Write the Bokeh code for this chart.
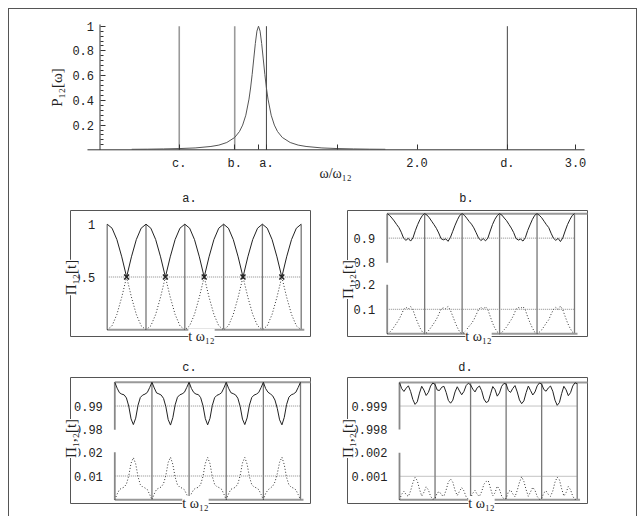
import math
from bokeh.plotting import figure
from bokeh.layouts import column, row
from bokeh.models import Range1d, FixedTicker, Label
from bokeh.embed import file_html
from bokeh.resources import INLINE

MONO = "Liberation Mono"
SERIF = "Liberation Serif"
INK = "#222222"

# ---------------- top spectrum ----------------
OMEGA = [0.2, 0.3, 0.4, 0.5, 0.6, 0.7, 0.75, 0.8, 0.85, 0.88, 0.9, 0.92, 0.94, 0.95, 0.96,
         0.97, 0.98, 0.99, 1.0, 1.01, 1.02, 1.03, 1.04, 1.05, 1.06, 1.08, 1.1, 1.12, 1.15,
         1.2, 1.25, 1.3, 1.4, 1.5, 1.6, 1.7, 1.8]
P12 = [0.004, 0.005, 0.007, 0.010, 0.015, 0.027, 0.038, 0.059, 0.10, 0.148, 0.20, 0.28, 0.41,
       0.50, 0.61, 0.735, 0.86, 0.96, 1.0, 0.96, 0.86, 0.735, 0.61, 0.50, 0.41, 0.28, 0.20,
       0.148, 0.10, 0.059, 0.038, 0.027, 0.015, 0.010, 0.007, 0.005, 0.004]
MARK_POS = [0.5, 0.85, 1.05, 2.57]
MARK_NAMES = ["c.", "b.", "a.", "d."]
MARK_TOP = 1.0
X_TICKS = [0.5, 0.85, 1.0, 1.05, 1.5, 2.0, 2.57, 3.0]
X_TICK_LABELS = ["c.", "b.", "", "a.", "", "2.0", "d.", "3.0"]
Y_TICKS = [0.2, 0.4, 0.6, 0.8, 1.0]
Y_TICK_LABELS = ["0.2", "0.4", "0.6", "0.8", "1"]
X_AXIS_SPAN = [-0.079, 3.057]
Y_AXIS_SPAN = [0.0, 1.014]

# ---------------- panel a ----------------
A_T = [0, 0.125, 0.25, 0.375, 0.5, 0.625, 0.75, 0.875,
       1, 1.125, 1.25, 1.375, 1.5, 1.625, 1.75, 1.875,
       2, 2.125, 2.25, 2.375, 2.5, 2.625, 2.75, 2.875,
       3, 3.125, 3.25, 3.375, 3.5, 3.625, 3.75, 3.875,
       4, 4.125, 4.25, 4.375, 4.5, 4.625, 4.75, 4.875, 5]
A_UPPER = [1, .962, .854, .691, .5, .691, .854, .962,
           1, .962, .854, .691, .5, .691, .854, .962,
           1, .962, .854, .691, .5, .691, .854, .962,
           1, .962, .854, .691, .5, .691, .854, .962,
           1, .962, .854, .691, .5, .691, .854, .962, 1]
A_LOWER = [0, .038, .146, .309, .5, .309, .146, .038,
           0, .038, .146, .309, .5, .309, .146, .038,
           0, .038, .146, .309, .5, .309, .146, .038,
           0, .038, .146, .309, .5, .309, .146, .038,
           0, .038, .146, .309, .5, .309, .146, .038, 0]
A_CROSS_T = [0.5, 1.5, 2.5, 3.5, 4.5]
A_CROSS_V = [0.5, 0.5, 0.5, 0.5, 0.5]

# ---------------- panels b, c, d (16 samples per period) ----------------
PHASE = [0, 0.0625, 0.125, 0.1875, 0.25, 0.3125, 0.375, 0.4375,
         0.5, 0.5625, 0.625, 0.6875, 0.75, 0.8125, 0.875, 0.9375]
PERIODS = [0, 1, 2, 3, 4]

B_UPPER = [1.000, 0.993, 0.982, 0.970, 0.956, 0.943, 0.924, 0.900, 0.891, 0.899, 0.888, 0.901, 0.930, 0.955, 0.976, 0.992,
           1.000, 0.994, 0.983, 0.969, 0.955, 0.940, 0.921, 0.898, 0.893, 0.897, 0.887, 0.903, 0.928, 0.953, 0.975, 0.993,
           1.000, 0.993, 0.981, 0.968, 0.957, 0.942, 0.922, 0.901, 0.890, 0.898, 0.889, 0.900, 0.929, 0.956, 0.977, 0.992,
           1.000, 0.994, 0.982, 0.971, 0.956, 0.941, 0.923, 0.899, 0.892, 0.896, 0.888, 0.902, 0.931, 0.954, 0.976, 0.993,
           1.000, 0.993, 0.983, 0.969, 0.955, 0.943, 0.920, 0.900, 0.891, 0.899, 0.886, 0.901, 0.929, 0.955, 0.975, 0.992,
           1.000]
B_LOWER = [0.000, 0.006, 0.016, 0.029, 0.043, 0.058, 0.077, 0.099, 0.108, 0.101, 0.111, 0.098, 0.070, 0.046, 0.024, 0.008,
           0.000, 0.005, 0.017, 0.030, 0.044, 0.059, 0.079, 0.101, 0.106, 0.103, 0.112, 0.096, 0.072, 0.047, 0.025, 0.007,
           0.000, 0.006, 0.018, 0.031, 0.042, 0.057, 0.078, 0.098, 0.109, 0.101, 0.110, 0.099, 0.071, 0.044, 0.023, 0.008,
           0.000, 0.006, 0.017, 0.028, 0.044, 0.058, 0.076, 0.100, 0.107, 0.104, 0.111, 0.097, 0.069, 0.045, 0.024, 0.007,
           0.000, 0.007, 0.016, 0.030, 0.045, 0.057, 0.080, 0.099, 0.108, 0.100, 0.113, 0.098, 0.071, 0.045, 0.025, 0.008,
           0.000]

C_UPPER = [1.0000, 0.9975, 0.9956, 0.9950, 0.9947, 0.9934, 0.9900, 0.9846, 0.9822, 0.9849, 0.9903, 0.9936, 0.9946, 0.9950, 0.9957, 0.9977,
           1.0000, 0.9976, 0.9955, 0.9951, 0.9946, 0.9932, 0.9897, 0.9843, 0.9820, 0.9851, 0.9905, 0.9937, 0.9947, 0.9951, 0.9958, 0.9978,
           1.0000, 0.9974, 0.9957, 0.9950, 0.9948, 0.9935, 0.9901, 0.9847, 0.9821, 0.9848, 0.9902, 0.9935, 0.9945, 0.9949, 0.9956, 0.9976,
           1.0000, 0.9975, 0.9956, 0.9952, 0.9947, 0.9933, 0.9899, 0.9845, 0.9822, 0.9850, 0.9904, 0.9936, 0.9946, 0.9950, 0.9957, 0.9977,
           1.0000, 0.9973, 0.9958, 0.9951, 0.9943, 0.9925, 0.9890, 0.9842, 0.9821, 0.9852, 0.9906, 0.9937, 0.9947, 0.9951, 0.9958, 0.9978,
           1.0000]
C_LOWER = [0.0000, 0.0024, 0.0043, 0.0049, 0.0053, 0.0066, 0.0100, 0.0154, 0.0177, 0.0151, 0.0097, 0.0064, 0.0054, 0.0050, 0.0043, 0.0023,
           0.0000, 0.0025, 0.0044, 0.0049, 0.0054, 0.0068, 0.0103, 0.0157, 0.0179, 0.0149, 0.0095, 0.0063, 0.0053, 0.0049, 0.0042, 0.0022,
           0.0000, 0.0026, 0.0043, 0.0050, 0.0052, 0.0065, 0.0099, 0.0153, 0.0178, 0.0152, 0.0098, 0.0065, 0.0055, 0.0051, 0.0044, 0.0024,
           0.0000, 0.0025, 0.0044, 0.0048, 0.0053, 0.0067, 0.0101, 0.0155, 0.0178, 0.0150, 0.0096, 0.0064, 0.0054, 0.0050, 0.0043, 0.0023,
           0.0000, 0.0027, 0.0042, 0.0049, 0.0057, 0.0075, 0.0110, 0.0158, 0.0179, 0.0148, 0.0094, 0.0063, 0.0053, 0.0049, 0.0042, 0.0022,
           0.0000]

D_UPPER = [1.00000, 0.99974, 0.99962, 0.99976, 0.99986, 0.99962, 0.99928, 0.99907, 0.99918, 0.99955, 0.99984, 0.99968, 0.99945, 0.99958, 0.99985, 0.99998,
           0.99992, 0.99968, 0.99966, 0.99980, 0.99984, 0.99958, 0.99924, 0.99912, 0.99925, 0.99960, 0.99982, 0.99964, 0.99948, 0.99962, 0.99987, 0.99997,
           0.99990, 0.99972, 0.99960, 0.99978, 0.99985, 0.99965, 0.99930, 0.99915, 0.99920, 0.99952, 0.99983, 0.99970, 0.99942, 0.99956, 0.99984, 0.99996,
           0.99994, 0.99966, 0.99958, 0.99975, 0.99987, 0.99960, 0.99926, 0.99910, 0.99922, 0.99957, 0.99985, 0.99966, 0.99947, 0.99960, 0.99986, 0.99998,
           0.99993, 0.99970, 0.99963, 0.99977, 0.99985, 0.99963, 0.99925, 0.99903, 0.99915, 0.99953, 0.99984, 0.99969, 0.99944, 0.99957, 0.99985, 0.99999,
           0.99995]
D_LOWER = [0.00000, 0.00024, 0.00036, 0.00022, 0.00014, 0.00038, 0.00072, 0.00095, 0.00082, 0.00045, 0.00016, 0.00032, 0.00055, 0.00042, 0.00015, 0.00002,
           0.00006, 0.00030, 0.00034, 0.00020, 0.00016, 0.00042, 0.00076, 0.00088, 0.00075, 0.00040, 0.00018, 0.00036, 0.00052, 0.00038, 0.00013, 0.00003,
           0.00008, 0.00028, 0.00040, 0.00022, 0.00015, 0.00035, 0.00066, 0.00078, 0.00080, 0.00048, 0.00017, 0.00030, 0.00058, 0.00044, 0.00016, 0.00004,
           0.00005, 0.00034, 0.00042, 0.00025, 0.00013, 0.00040, 0.00074, 0.00098, 0.00078, 0.00043, 0.00015, 0.00034, 0.00053, 0.00040, 0.00014, 0.00002,
           0.00006, 0.00030, 0.00037, 0.00023, 0.00015, 0.00037, 0.00075, 0.00096, 0.00085, 0.00047, 0.00016, 0.00031, 0.00056, 0.00043, 0.00015, 0.00001,
           0.00004]

GRID_T = [0, 1, 2, 3, 4, 5]
T16 = [k + ph for k in PERIODS for ph in PHASE] + [5]

# ---------------- page geometry (pixels) ----------------
OX, OY = 9, 9  # content origin inside the bordered column


class Cal:
    """Maps page pixels <-> data for one canvas (frame == canvas)."""

    def __init__(self, canvas, x0, sx, y0, sy):
        self.L, self.R, self.T, self.B = canvas
        self.x0, self.sx, self.y0, self.sy = x0, sx, y0, sy

    def dx(self, px):
        return (px - self.x0) / self.sx

    def dy(self, py):
        return (self.y0 - py) / self.sy

    def fig(self):
        p = figure(width=self.R - self.L, height=self.B - self.T,
                   x_range=Range1d(self.dx(self.L), self.dx(self.R)),
                   y_range=Range1d(self.dy(self.B), self.dy(self.T)),
                   toolbar_location=None, output_backend="svg",
                   min_border=0, min_border_left=0, min_border_right=0,
                   min_border_top=0, min_border_bottom=0)
        p.grid.visible = False
        p.outline_line_color = None
        p.title.visible = False
        p.background_fill_color = "white"
        p.border_fill_color = "white"
        return p


def text_label(p, x, y, text, font, size, angle=0.0, bg=None):
    p.add_layout(Label(x=x, y=y, text=text, angle=angle, text_align="center",
                       text_baseline="middle", text_font=font, text_font_size=size,
                       text_color=INK, background_fill_color=bg))


# ---------------- top figure ----------------
ct = Cal((OX, 636, OY, 190), 99.5, 158.5, 149.3, 123.6)
pt = ct.fig()
for pos, name in zip(MARK_POS, MARK_NAMES):
    light = name in ("c.", "b.")
    pt.segment(x0=[pos], y0=[0], x1=[pos], y1=[MARK_TOP],
               line_color="#9a9a9a" if light else "#444444",
               line_width=1.6 if light else 1.0)
pt.segment(x0=[X_AXIS_SPAN[0], 0], y0=[0, Y_AXIS_SPAN[0]],
           x1=[X_AXIS_SPAN[1], 0], y1=[0, Y_AXIS_SPAN[1]],
           line_color="#333333", line_width=1)
pt.line(OMEGA, P12, line_color="#555555", line_width=1)

xa = pt.xaxis[0]
xa.fixed_location = 0
xa.ticker = FixedTicker(ticks=X_TICKS, minor_ticks=[])
xa.major_label_overrides = {t: l for t, l in zip(X_TICKS, X_TICK_LABELS)}
xa.major_tick_in = 5
xa.major_tick_out = 0
xa.axis_line_color = None
xa.major_tick_line_color = "#333333"
xa.major_label_text_font = MONO
xa.major_label_text_font_size = "12px"
xa.major_label_text_color = INK
xa.major_label_standoff = 7

ya = pt.yaxis[0]
ya.fixed_location = 0
minor = [round(0.04 * k, 2) for k in range(1, 26) if k % 5 != 0]
ya.ticker = FixedTicker(ticks=Y_TICKS, minor_ticks=minor)
ya.major_label_overrides = {t: l for t, l in zip(Y_TICKS, Y_TICK_LABELS)}
ya.major_tick_in = 5
ya.major_tick_out = 0
ya.minor_tick_in = 3
ya.minor_tick_out = 0
ya.axis_line_color = None
ya.major_tick_line_color = "#333333"
ya.minor_tick_line_color = "#333333"
ya.major_label_text_font = MONO
ya.major_label_text_font_size = "12px"
ya.major_label_text_color = INK
ya.major_label_standoff = 6

text_label(pt, ct.dx(335), ct.dy(173), "ω/ω₁₂", SERIF, "14px")
text_label(pt, ct.dx(56), ct.dy(87), "P₁₂[ω]", SERIF, "15px", angle=math.pi / 2)


# ---------------- panels ----------------
def make_panel(cal, box, title, title_xy, t, upper, lower, tr, ticks, tick_labels,
               refs, split, ylab, ylab_py, tlab_px, top_line, cross=None):
    p = cal.fig()
    bl, br, bt, bb = cal.dx(box[0]), cal.dx(box[1]), cal.dy(box[2]), cal.dy(box[3])
    p.quad(left=[bl], right=[br], bottom=[bb], top=[bt], fill_color=None,
           line_color="#555555", line_width=1)
    p.xaxis.visible = False

    y0, y1 = tr(0.0), tr(1.0)
    if split is None:
        p.segment(x0=GRID_T, y0=[y0] * 6, x1=GRID_T, y1=[y1] * 6,
                  line_color="#777777", line_width=1.3)
    else:
        lo_top, up_bot = split
        p.segment(x0=GRID_T[1:], y0=[y0] * 5, x1=GRID_T[1:], y1=[y1] * 5,
                  line_color="#777777", line_width=1.3)
        p.segment(x0=[0, 0], y0=[y0, up_bot], x1=[0, 0], y1=[lo_top, y1],
                  line_color="#888888", line_width=1.8)
    p.segment(x0=[0], y0=[y0], x1=[5.08], y1=[y0], line_color="#999999", line_width=2)
    if top_line:
        p.segment(x0=[0], y0=[y1], x1=[br], y1=[y1], line_color="#999999", line_width=2)
    ry = [tr(v) for v in refs]
    p.segment(x0=[0] * len(ry), y0=ry, x1=[5] * len(ry), y1=ry,
              line_color="#888888", line_width=1, line_dash="1 1")
    p.line(t, [tr(v) for v in upper], line_color="#222222", line_width=1)
    p.line(t, [tr(v) for v in lower], line_color="#333333", line_width=1, line_dash="1 2")
    if cross is not None:
        p.scatter(cross[0], [tr(v) for v in cross[1]], marker="x", size=7,
                  line_color="#222222", line_width=1.5)

    ax = p.yaxis[0]
    ax.fixed_location = 0
    tv = [tr(v) for v in ticks]
    ax.ticker = FixedTicker(ticks=tv, minor_ticks=[])
    ax.major_label_overrides = {a: b for a, b in zip(tv, tick_labels)}
    ax.axis_line_color = None
    ax.major_tick_line_color = None
    ax.minor_tick_line_color = None
    ax.major_label_text_font = MONO
    ax.major_label_text_font_size = "12px"
    ax.major_label_text_color = INK
    ax.major_label_standoff = 6

    text_label(p, cal.dx(title_xy[0]), cal.dy(title_xy[1]), title, MONO, "12px")
    text_label(p, bl, cal.dy(ylab_py), ylab, SERIF, "15px", angle=math.pi / 2, bg="white")
    text_label(p, cal.dx(tlab_px), bb, "t ω₁₂", SERIF, "14px", bg="white")
    return p


def broken(s, gap):
    def tr(v):
        return v / s if v <= 0.5 else (v - (1 - 2 * s)) / s + 2 + gap
    return tr


ident = lambda v: v

ca = Cal((OX, 320, 190, 355), 106.7, 38.8, 329.3, 105.6)
pa = make_panel(ca, (70, 310, 210, 336), "a.", (189, 198), A_T, A_UPPER, A_LOWER, ident,
                [0.5, 1.0], ["0.5", "1"], [0.5], None, "Π₁₂[t]", 277, 201, False,
                cross=(A_CROSS_T, A_CROSS_V))

cb = Cal((320, 636, 190, 355), 386.7, 37.46, 333.3, 24.5)
trb = broken(0.1, 0.905)
pb = make_panel(cb, (347, 587, 210, 336), "b.", (466, 198), T16, B_UPPER, B_LOWER, trb,
                [0.1, 0.2, 0.8, 0.9], ["0.1", "0.2", "0.8", "0.9"], [0.9, 0.1],
                (trb(0.2), trb(0.8)), "Π₁,₂[t]", 279, 478, True)

cc = Cal((OX, 320, 355, 516), 114.3, 37.14, 499.3, 23.8)
trc = broken(0.01, 0.94)
pc = make_panel(cc, (70, 310, 377, 503), "c.", (189, 367), T16, C_UPPER, C_LOWER, trc,
                [0.01, 0.02, 0.98, 0.99], ["0.01", "0.02", "0.98", "0.99"], [0.99, 0.01],
                (trc(0.02), trc(0.98)), "Π₁,₂[t]", 438, 195, True)

cd = Cal((320, 636, 355, 516), 399.0, 35.54, 499.3, 23.5)
trd = broken(0.001, 0.99)
pd_ = make_panel(cd, (347, 587, 377, 503), "d.", (465, 367), T16, D_UPPER, D_LOWER, trd,
                 [0.001, 0.002, 0.998, 0.999], ["0.001", "0.002", "0.998", "0.999"],
                 [0.999, 0.001], (trd(0.002), trd(0.998)), "Π₁,₂[t]", 438, 481, True)

layout = column(pt, row(pa, pb), row(pc, pd_), margin=(8, 0, 0, 8),
                styles={"border-top": "1px solid #555555",
                        "border-left": "1px solid #555555",
                        "border-right": "1px solid #555555"})

open("out.html", "w").write(file_html(layout, INLINE))
